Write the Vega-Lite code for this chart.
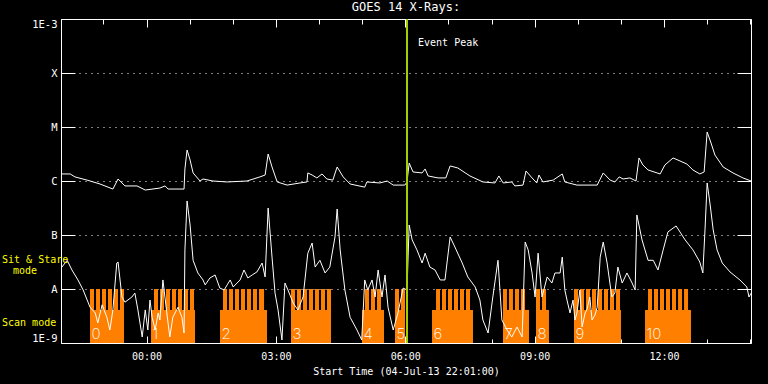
{
  "$schema": "https://vega.github.io/schema/vega-lite/v6.json",
  "width": 690,
  "height": 324,
  "autosize": {"type": "none"},
  "padding": {"left": 61, "top": 19, "right": 17, "bottom": 41},
  "background": "black",
  "title": {"text": "GOES 14 X-Rays:", "color": "white", "font": "DejaVu Sans Mono", "fontSize": 12, "fontWeight": "normal", "offset": 4, "anchor": "middle"},
  "config": {
    "view": {"stroke": "white", "strokeWidth": 1},
    "axis": {"domain": false, "grid": false, "labelFont": "DejaVu Sans Mono", "titleFont": "DejaVu Sans Mono", "labelColor": "white", "titleColor": "white", "tickColor": "white", "tickWidth": 1},
    "text": {"font": "DejaVu Sans Mono"}
  },
  "datasets": {
    "blocks": [
      {"n": "0", "start": -1.311, "end": -0.522},
      {"n": "1", "start": 0.104, "end": 1.124},
      {"n": "2", "start": 1.704, "end": 2.794},
      {"n": "3", "start": 3.35, "end": 4.278},
      {"n": "4", "start": 4.997, "end": 5.507},
      {"n": "5", "start": 5.762, "end": 5.994},
      {"n": "6", "start": 6.62, "end": 7.57},
      {"n": "7", "start": 8.266, "end": 8.869},
      {"n": "8", "start": 9.031, "end": 9.332},
      {"n": "9", "start": 9.912, "end": 11.002},
      {"n": "10", "start": 11.559, "end": 12.625}
    ],
    "teeth": [
      {"start": -1.311, "end": -1.218}, {"start": -1.171, "end": -1.079}, {"start": -1.032, "end": -0.94}, {"start": -0.893, "end": -0.8}, {"start": -0.754, "end": -0.661}, {"start": -0.615, "end": -0.522},
      {"start": 0.173, "end": 0.266}, {"start": 0.313, "end": 0.405}, {"start": 0.452, "end": 0.544}, {"start": 0.591, "end": 0.684}, {"start": 0.73, "end": 0.823}, {"start": 0.869, "end": 0.962}, {"start": 1.008, "end": 1.101},
      {"start": 1.773, "end": 1.866}, {"start": 1.913, "end": 2.005}, {"start": 2.052, "end": 2.144}, {"start": 2.191, "end": 2.284}, {"start": 2.33, "end": 2.423}, {"start": 2.469, "end": 2.562}, {"start": 2.608, "end": 2.725},
      {"start": 3.35, "end": 3.443}, {"start": 3.489, "end": 3.582}, {"start": 3.628, "end": 3.721}, {"start": 3.767, "end": 3.86}, {"start": 3.907, "end": 3.999}, {"start": 4.046, "end": 4.139}, {"start": 4.185, "end": 4.278},
      {"start": 5.066, "end": 5.159}, {"start": 5.205, "end": 5.298}, {"start": 5.344, "end": 5.437},
      {"start": 5.762, "end": 5.855}, {"start": 5.901, "end": 5.994},
      {"start": 6.713, "end": 6.805}, {"start": 6.852, "end": 6.944}, {"start": 6.991, "end": 7.084}, {"start": 7.13, "end": 7.223}, {"start": 7.269, "end": 7.362}, {"start": 7.408, "end": 7.501},
      {"start": 8.266, "end": 8.358}, {"start": 8.405, "end": 8.497}, {"start": 8.544, "end": 8.637}, {"start": 8.683, "end": 8.776},
      {"start": 9.031, "end": 9.124}, {"start": 9.17, "end": 9.263},
      {"start": 9.912, "end": 10.005}, {"start": 10.051, "end": 10.144}, {"start": 10.19, "end": 10.283}, {"start": 10.33, "end": 10.423}, {"start": 10.469, "end": 10.562}, {"start": 10.608, "end": 10.701}, {"start": 10.747, "end": 10.84}, {"start": 10.887, "end": 10.979},
      {"start": 11.629, "end": 11.721}, {"start": 11.768, "end": 11.861}, {"start": 11.907, "end": 12.0}, {"start": 12.046, "end": 12.139}, {"start": 12.185, "end": 12.278}, {"start": 12.325, "end": 12.418}, {"start": 12.464, "end": 12.557}
    ],
    "flux": [
      {"ch": "1-8 A", "hour": -1.98, "flux": 1.35e-6}, {"ch": "1-8 A", "hour": -1.77, "flux": 1.35e-6}, {"ch": "1-8 A", "hour": -1.66, "flux": 1.19e-6}, {"ch": "1-8 A", "hour": -1.38, "flux": 1.04e-6}, {"ch": "1-8 A", "hour": -1.08, "flux": 8.8e-7}, {"ch": "1-8 A", "hour": -0.78, "flux": 7.1e-7}, {"ch": "1-8 A", "hour": -0.66, "flux": 1.09e-6}, {"ch": "1-8 A", "hour": -0.5, "flux": 8.1e-7}, {"ch": "1-8 A", "hour": -0.22, "flux": 8.1e-7}, {"ch": "1-8 A", "hour": -0.03, "flux": 6.8e-7},
      {"ch": "1-8 A", "hour": 0.31, "flux": 7.4e-7}, {"ch": "1-8 A", "hour": 0.43, "flux": 8.1e-7}, {"ch": "1-8 A", "hour": 0.5, "flux": 7.1e-7}, {"ch": "1-8 A", "hour": 0.87, "flux": 7.1e-7}, {"ch": "1-8 A", "hour": 0.89, "flux": 1.67e-6}, {"ch": "1-8 A", "hour": 0.94, "flux": 3.75e-6}, {"ch": "1-8 A", "hour": 1.01, "flux": 2.45e-6}, {"ch": "1-8 A", "hour": 1.08, "flux": 1.41e-6}, {"ch": "1-8 A", "hour": 1.24, "flux": 1.0e-6}, {"ch": "1-8 A", "hour": 1.31, "flux": 1.09e-6},
      {"ch": "1-8 A", "hour": 1.54, "flux": 1.0e-6}, {"ch": "1-8 A", "hour": 1.87, "flux": 9.6e-7}, {"ch": "1-8 A", "hour": 2.33, "flux": 1.0e-6}, {"ch": "1-8 A", "hour": 2.63, "flux": 1.19e-6}, {"ch": "1-8 A", "hour": 2.75, "flux": 1.29e-6}, {"ch": "1-8 A", "hour": 2.82, "flux": 3.16e-6}, {"ch": "1-8 A", "hour": 2.91, "flux": 1.82e-6}, {"ch": "1-8 A", "hour": 3.03, "flux": 9.6e-7}, {"ch": "1-8 A", "hour": 3.26, "flux": 8.4e-7}, {"ch": "1-8 A", "hour": 3.56, "flux": 9.2e-7},
      {"ch": "1-8 A", "hour": 3.72, "flux": 9.6e-7}, {"ch": "1-8 A", "hour": 3.74, "flux": 1.41e-6}, {"ch": "1-8 A", "hour": 3.84, "flux": 1.29e-6}, {"ch": "1-8 A", "hour": 3.95, "flux": 1.14e-6}, {"ch": "1-8 A", "hour": 4.07, "flux": 1.35e-6}, {"ch": "1-8 A", "hour": 4.18, "flux": 1.09e-6}, {"ch": "1-8 A", "hour": 4.32, "flux": 1.04e-6}, {"ch": "1-8 A", "hour": 4.42, "flux": 1.82e-6}, {"ch": "1-8 A", "hour": 4.56, "flux": 1.19e-6}, {"ch": "1-8 A", "hour": 4.72, "flux": 8.8e-7},
      {"ch": "1-8 A", "hour": 5.06, "flux": 7.7e-7}, {"ch": "1-8 A", "hour": 5.11, "flux": 9.6e-7}, {"ch": "1-8 A", "hour": 5.41, "flux": 9.2e-7}, {"ch": "1-8 A", "hour": 5.58, "flux": 1.0e-6}, {"ch": "1-8 A", "hour": 5.72, "flux": 8.4e-7}, {"ch": "1-8 A", "hour": 5.99, "flux": 8.4e-7}, {"ch": "1-8 A", "hour": 6.04, "flux": 9.6e-7}, {"ch": "1-8 A", "hour": 6.09, "flux": 2.15e-6}, {"ch": "1-8 A", "hour": 6.18, "flux": 1.47e-6}, {"ch": "1-8 A", "hour": 6.39, "flux": 1.41e-6},
      {"ch": "1-8 A", "hour": 6.46, "flux": 1.67e-6}, {"ch": "1-8 A", "hour": 6.53, "flux": 1.24e-6}, {"ch": "1-8 A", "hour": 6.76, "flux": 1.14e-6}, {"ch": "1-8 A", "hour": 6.94, "flux": 1.14e-6}, {"ch": "1-8 A", "hour": 7.04, "flux": 1.9e-6}, {"ch": "1-8 A", "hour": 7.22, "flux": 1.74e-6}, {"ch": "1-8 A", "hour": 7.5, "flux": 1.24e-6}, {"ch": "1-8 A", "hour": 7.8, "flux": 9.6e-7}, {"ch": "1-8 A", "hour": 8.08, "flux": 9.2e-7}, {"ch": "1-8 A", "hour": 8.17, "flux": 1.24e-6},
      {"ch": "1-8 A", "hour": 8.27, "flux": 9.2e-7}, {"ch": "1-8 A", "hour": 8.47, "flux": 9.6e-7}, {"ch": "1-8 A", "hour": 8.54, "flux": 8.1e-7}, {"ch": "1-8 A", "hour": 8.73, "flux": 8.4e-7}, {"ch": "1-8 A", "hour": 8.8, "flux": 1.53e-6}, {"ch": "1-8 A", "hour": 8.94, "flux": 1.14e-6}, {"ch": "1-8 A", "hour": 9.05, "flux": 9.2e-7}, {"ch": "1-8 A", "hour": 9.1, "flux": 1.29e-6}, {"ch": "1-8 A", "hour": 9.19, "flux": 9.6e-7}, {"ch": "1-8 A", "hour": 9.43, "flux": 1.04e-6},
      {"ch": "1-8 A", "hour": 9.64, "flux": 1.35e-6}, {"ch": "1-8 A", "hour": 9.7, "flux": 9.6e-7}, {"ch": "1-8 A", "hour": 9.98, "flux": 8.4e-7}, {"ch": "1-8 A", "hour": 10.45, "flux": 8.4e-7}, {"ch": "1-8 A", "hour": 10.59, "flux": 1.41e-6}, {"ch": "1-8 A", "hour": 10.75, "flux": 1.04e-6}, {"ch": "1-8 A", "hour": 10.86, "flux": 9.6e-7}, {"ch": "1-8 A", "hour": 10.96, "flux": 1.19e-6}, {"ch": "1-8 A", "hour": 11.05, "flux": 1.09e-6}, {"ch": "1-8 A", "hour": 11.21, "flux": 1.14e-6},
      {"ch": "1-8 A", "hour": 11.35, "flux": 1.0e-6}, {"ch": "1-8 A", "hour": 11.42, "flux": 2.67e-6}, {"ch": "1-8 A", "hour": 11.51, "flux": 1.98e-6}, {"ch": "1-8 A", "hour": 11.63, "flux": 1.6e-6}, {"ch": "1-8 A", "hour": 11.84, "flux": 1.41e-6}, {"ch": "1-8 A", "hour": 11.91, "flux": 1.35e-6}, {"ch": "1-8 A", "hour": 12.02, "flux": 1.98e-6}, {"ch": "1-8 A", "hour": 12.21, "flux": 2.67e-6}, {"ch": "1-8 A", "hour": 12.37, "flux": 2.35e-6}, {"ch": "1-8 A", "hour": 12.53, "flux": 2.06e-6},
      {"ch": "1-8 A", "hour": 12.67, "flux": 1.6e-6}, {"ch": "1-8 A", "hour": 12.83, "flux": 1.35e-6}, {"ch": "1-8 A", "hour": 12.93, "flux": 1.47e-6}, {"ch": "1-8 A", "hour": 13.0, "flux": 8.08e-6}, {"ch": "1-8 A", "hour": 13.09, "flux": 5.05e-6}, {"ch": "1-8 A", "hour": 13.18, "flux": 3.03e-6}, {"ch": "1-8 A", "hour": 13.37, "flux": 1.82e-6}, {"ch": "1-8 A", "hour": 13.6, "flux": 1.41e-6}, {"ch": "1-8 A", "hour": 13.83, "flux": 1.14e-6}, {"ch": "1-8 A", "hour": 14.02, "flux": 1.0e-6},

      {"ch": "0.5-4 A", "hour": -1.98, "flux": 2.45e-8}, {"ch": "0.5-4 A", "hour": -1.84, "flux": 3.4e-8}, {"ch": "0.5-4 A", "hour": -1.73, "flux": 2.25e-8}, {"ch": "0.5-4 A", "hour": -1.59, "flux": 1.47e-8}, {"ch": "0.5-4 A", "hour": -1.47, "flux": 9.6e-9}, {"ch": "0.5-4 A", "hour": -1.31, "flux": 4.6e-9}, {"ch": "0.5-4 A", "hour": -1.19, "flux": 3.6e-9}, {"ch": "0.5-4 A", "hour": -1.13, "flux": 2.35e-9}, {"ch": "0.5-4 A", "hour": -1.03, "flux": 5.1e-9}, {"ch": "0.5-4 A", "hour": -0.92, "flux": 3.0e-9},
      {"ch": "0.5-4 A", "hour": -0.85, "flux": 1.74e-9}, {"ch": "0.5-4 A", "hour": -0.78, "flux": 4.1e-9}, {"ch": "0.5-4 A", "hour": -0.69, "flux": 3.03e-8}, {"ch": "0.5-4 A", "hour": -0.66, "flux": 3.16e-8}, {"ch": "0.5-4 A", "hour": -0.57, "flux": 7.1e-9}, {"ch": "0.5-4 A", "hour": -0.5, "flux": 5.7e-9}, {"ch": "0.5-4 A", "hour": -0.34, "flux": 7.1e-9}, {"ch": "0.5-4 A", "hour": -0.27, "flux": 8.4e-9}, {"ch": "0.5-4 A", "hour": -0.2, "flux": 4.1e-9}, {"ch": "0.5-4 A", "hour": -0.1, "flux": 1.29e-9},
      {"ch": "0.5-4 A", "hour": -0.03, "flux": 4.1e-9}, {"ch": "0.5-4 A", "hour": 0.03, "flux": 1.74e-9}, {"ch": "0.5-4 A", "hour": 0.08, "flux": 6.25e-9}, {"ch": "0.5-4 A", "hour": 0.13, "flux": 3.0e-9}, {"ch": "0.5-4 A", "hour": 0.2, "flux": 1.74e-9}, {"ch": "0.5-4 A", "hour": 0.27, "flux": 3.6e-9}, {"ch": "0.5-4 A", "hour": 0.31, "flux": 2.67e-9}, {"ch": "0.5-4 A", "hour": 0.38, "flux": 1.47e-8}, {"ch": "0.5-4 A", "hour": 0.47, "flux": 3.6e-9}, {"ch": "0.5-4 A", "hour": 0.54, "flux": 1.29e-9}, {"ch": "0.5-4 A", "hour": 0.61, "flux": 3.0e-9}, {"ch": "0.5-4 A", "hour": 0.73, "flux": 4.6e-9},
      {"ch": "0.5-4 A", "hour": 0.82, "flux": 3.0e-9}, {"ch": "0.5-4 A", "hour": 0.87, "flux": 1.53e-9}, {"ch": "0.5-4 A", "hour": 0.89, "flux": 5.3e-8}, {"ch": "0.5-4 A", "hour": 0.94, "flux": 4.27e-7}, {"ch": "0.5-4 A", "hour": 1.01, "flux": 1.53e-7}, {"ch": "0.5-4 A", "hour": 1.08, "flux": 3.4e-8}, {"ch": "0.5-4 A", "hour": 1.19, "flux": 1.98e-8}, {"ch": "0.5-4 A", "hour": 1.31, "flux": 1.47e-8}, {"ch": "0.5-4 A", "hour": 1.36, "flux": 1.19e-8}, {"ch": "0.5-4 A", "hour": 1.47, "flux": 1.6e-8}, {"ch": "0.5-4 A", "hour": 1.59, "flux": 1.82e-8}, {"ch": "0.5-4 A", "hour": 1.7, "flux": 1.04e-8}, {"ch": "0.5-4 A", "hour": 1.8, "flux": 9.6e-9},
      {"ch": "0.5-4 A", "hour": 1.87, "flux": 1.19e-8}, {"ch": "0.5-4 A", "hour": 1.94, "flux": 1.47e-8}, {"ch": "0.5-4 A", "hour": 2.01, "flux": 1.09e-8}, {"ch": "0.5-4 A", "hour": 2.1, "flux": 1.29e-8}, {"ch": "0.5-4 A", "hour": 2.17, "flux": 1.47e-8}, {"ch": "0.5-4 A", "hour": 2.26, "flux": 2.25e-8}, {"ch": "0.5-4 A", "hour": 2.35, "flux": 1.6e-8}, {"ch": "0.5-4 A", "hour": 2.45, "flux": 1.82e-8}, {"ch": "0.5-4 A", "hour": 2.56, "flux": 2.07e-8}, {"ch": "0.5-4 A", "hour": 2.68, "flux": 3.03e-8}, {"ch": "0.5-4 A", "hour": 2.75, "flux": 1.67e-8}, {"ch": "0.5-4 A", "hour": 2.82, "flux": 3.16e-7}, {"ch": "0.5-4 A", "hour": 2.91, "flux": 3.9e-8}, {"ch": "0.5-4 A", "hour": 2.98, "flux": 8.4e-9},
      {"ch": "0.5-4 A", "hour": 3.05, "flux": 4.1e-9}, {"ch": "0.5-4 A", "hour": 3.14, "flux": 1.14e-9}, {"ch": "0.5-4 A", "hour": 3.21, "flux": 1.29e-8}, {"ch": "0.5-4 A", "hour": 3.28, "flux": 9.6e-9}, {"ch": "0.5-4 A", "hour": 3.4, "flux": 5.5e-9}, {"ch": "0.5-4 A", "hour": 3.51, "flux": 4.1e-9}, {"ch": "0.5-4 A", "hour": 3.63, "flux": 7.1e-9}, {"ch": "0.5-4 A", "hour": 3.74, "flux": 4.6e-8}, {"ch": "0.5-4 A", "hour": 3.84, "flux": 7.1e-8}, {"ch": "0.5-4 A", "hour": 3.91, "flux": 2.55e-8},
      {"ch": "0.5-4 A", "hour": 4.02, "flux": 3.4e-8}, {"ch": "0.5-4 A", "hour": 4.14, "flux": 1.98e-8}, {"ch": "0.5-4 A", "hour": 4.25, "flux": 2.55e-8}, {"ch": "0.5-4 A", "hour": 4.37, "flux": 9.2e-8}, {"ch": "0.5-4 A", "hour": 4.42, "flux": 3.03e-7}, {"ch": "0.5-4 A", "hour": 4.49, "flux": 5.3e-8}, {"ch": "0.5-4 A", "hour": 4.6, "flux": 9.6e-9}, {"ch": "0.5-4 A", "hour": 4.72, "flux": 3.0e-9}, {"ch": "0.5-4 A", "hour": 4.88, "flux": 1.74e-9}, {"ch": "0.5-4 A", "hour": 4.99, "flux": 1.14e-9},
      {"ch": "0.5-4 A", "hour": 5.06, "flux": 1.47e-8}, {"ch": "0.5-4 A", "hour": 5.13, "flux": 9.6e-9}, {"ch": "0.5-4 A", "hour": 5.23, "flux": 1.47e-8}, {"ch": "0.5-4 A", "hour": 5.3, "flux": 7.1e-9}, {"ch": "0.5-4 A", "hour": 5.37, "flux": 2.25e-8}, {"ch": "0.5-4 A", "hour": 5.46, "flux": 7.1e-9}, {"ch": "0.5-4 A", "hour": 5.53, "flux": 1.82e-8}, {"ch": "0.5-4 A", "hour": 5.6, "flux": 4.6e-9}, {"ch": "0.5-4 A", "hour": 5.72, "flux": 1.74e-9}, {"ch": "0.5-4 A", "hour": 5.83, "flux": 3.6e-9},
      {"ch": "0.5-4 A", "hour": 5.95, "flux": 1.04e-8}, {"ch": "0.5-4 A", "hour": 6.04, "flux": 9.6e-9}, {"ch": "0.5-4 A", "hour": 6.09, "flux": 1.53e-7}, {"ch": "0.5-4 A", "hour": 6.16, "flux": 8.1e-8}, {"ch": "0.5-4 A", "hour": 6.27, "flux": 5.3e-8}, {"ch": "0.5-4 A", "hour": 6.39, "flux": 3.03e-8}, {"ch": "0.5-4 A", "hour": 6.46, "flux": 4.6e-8}, {"ch": "0.5-4 A", "hour": 6.57, "flux": 2.55e-8}, {"ch": "0.5-4 A", "hour": 6.69, "flux": 2.25e-8}, {"ch": "0.5-4 A", "hour": 6.81, "flux": 1.47e-8},
      {"ch": "0.5-4 A", "hour": 6.92, "flux": 1.47e-8}, {"ch": "0.5-4 A", "hour": 7.04, "flux": 9.2e-8}, {"ch": "0.5-4 A", "hour": 7.15, "flux": 6.0e-8}, {"ch": "0.5-4 A", "hour": 7.32, "flux": 3.03e-8}, {"ch": "0.5-4 A", "hour": 7.45, "flux": 1.67e-8}, {"ch": "0.5-4 A", "hour": 7.62, "flux": 1.09e-8}, {"ch": "0.5-4 A", "hour": 7.73, "flux": 6.25e-9}, {"ch": "0.5-4 A", "hour": 7.8, "flux": 2.67e-9}, {"ch": "0.5-4 A", "hour": 7.92, "flux": 1.53e-9}, {"ch": "0.5-4 A", "hour": 8.03, "flux": 7.1e-9},
      {"ch": "0.5-4 A", "hour": 8.15, "flux": 3.4e-8}, {"ch": "0.5-4 A", "hour": 8.24, "flux": 2.67e-9}, {"ch": "0.5-4 A", "hour": 8.36, "flux": 1.74e-9}, {"ch": "0.5-4 A", "hour": 8.47, "flux": 1.29e-9}, {"ch": "0.5-4 A", "hour": 8.59, "flux": 1.98e-9}, {"ch": "0.5-4 A", "hour": 8.71, "flux": 1.29e-9}, {"ch": "0.5-4 A", "hour": 8.78, "flux": 7.4e-8}, {"ch": "0.5-4 A", "hour": 8.85, "flux": 5.3e-8}, {"ch": "0.5-4 A", "hour": 8.94, "flux": 1.98e-8}, {"ch": "0.5-4 A", "hour": 9.01, "flux": 7.1e-9},
      {"ch": "0.5-4 A", "hour": 9.08, "flux": 4.6e-8}, {"ch": "0.5-4 A", "hour": 9.17, "flux": 7.1e-9}, {"ch": "0.5-4 A", "hour": 9.29, "flux": 1.67e-8}, {"ch": "0.5-4 A", "hour": 9.4, "flux": 1.29e-8}, {"ch": "0.5-4 A", "hour": 9.47, "flux": 1.98e-8}, {"ch": "0.5-4 A", "hour": 9.59, "flux": 1.98e-8}, {"ch": "0.5-4 A", "hour": 9.64, "flux": 3.9e-8}, {"ch": "0.5-4 A", "hour": 9.7, "flux": 9.6e-9}, {"ch": "0.5-4 A", "hour": 9.75, "flux": 6.25e-9}, {"ch": "0.5-4 A", "hour": 9.82, "flux": 3.6e-9}, {"ch": "0.5-4 A", "hour": 9.89, "flux": 6.25e-9}, {"ch": "0.5-4 A", "hour": 9.935, "flux": 2.67e-9},
      {"ch": "0.5-4 A", "hour": 9.98, "flux": 3.6e-9}, {"ch": "0.5-4 A", "hour": 10.05, "flux": 9.6e-9}, {"ch": "0.5-4 A", "hour": 10.1, "flux": 1.98e-9}, {"ch": "0.5-4 A", "hour": 10.17, "flux": 3.6e-9}, {"ch": "0.5-4 A", "hour": 10.21, "flux": 4.1e-9}, {"ch": "0.5-4 A", "hour": 10.28, "flux": 7.1e-9}, {"ch": "0.5-4 A", "hour": 10.33, "flux": 2.67e-9}, {"ch": "0.5-4 A", "hour": 10.4, "flux": 3.3e-9}, {"ch": "0.5-4 A", "hour": 10.45, "flux": 4.6e-9}, {"ch": "0.5-4 A", "hour": 10.52, "flux": 3.9e-8}, {"ch": "0.5-4 A", "hour": 10.59, "flux": 7.4e-8}, {"ch": "0.5-4 A", "hour": 10.68, "flux": 3.03e-8}, {"ch": "0.5-4 A", "hour": 10.79, "flux": 7.1e-9}, {"ch": "0.5-4 A", "hour": 10.86, "flux": 8.4e-9},
      {"ch": "0.5-4 A", "hour": 10.93, "flux": 2.55e-8}, {"ch": "0.5-4 A", "hour": 11.03, "flux": 1.29e-8}, {"ch": "0.5-4 A", "hour": 11.14, "flux": 1.98e-8}, {"ch": "0.5-4 A", "hour": 11.26, "flux": 1.29e-8}, {"ch": "0.5-4 A", "hour": 11.33, "flux": 9.6e-9}, {"ch": "0.5-4 A", "hour": 11.37, "flux": 2.35e-7}, {"ch": "0.5-4 A", "hour": 11.49, "flux": 8.1e-8}, {"ch": "0.5-4 A", "hour": 11.63, "flux": 3.4e-8}, {"ch": "0.5-4 A", "hour": 11.75, "flux": 3.4e-8}, {"ch": "0.5-4 A", "hour": 11.86, "flux": 2.25e-8},
      {"ch": "0.5-4 A", "hour": 11.98, "flux": 5.3e-8}, {"ch": "0.5-4 A", "hour": 12.09, "flux": 1.14e-7}, {"ch": "0.5-4 A", "hour": 12.28, "flux": 1.47e-7}, {"ch": "0.5-4 A", "hour": 12.49, "flux": 8.1e-8}, {"ch": "0.5-4 A", "hour": 12.67, "flux": 5.3e-8}, {"ch": "0.5-4 A", "hour": 12.83, "flux": 3.16e-8}, {"ch": "0.5-4 A", "hour": 12.9, "flux": 1.98e-8}, {"ch": "0.5-4 A", "hour": 12.95, "flux": 1.24e-7}, {"ch": "0.5-4 A", "hour": 13.0, "flux": 9.2e-7}, {"ch": "0.5-4 A", "hour": 13.07, "flux": 3.6e-7},
      {"ch": "0.5-4 A", "hour": 13.14, "flux": 1.24e-7}, {"ch": "0.5-4 A", "hour": 13.23, "flux": 5.3e-8}, {"ch": "0.5-4 A", "hour": 13.35, "flux": 3.03e-8}, {"ch": "0.5-4 A", "hour": 13.53, "flux": 2.07e-8}, {"ch": "0.5-4 A", "hour": 13.76, "flux": 1.47e-8}, {"ch": "0.5-4 A", "hour": 13.92, "flux": 1.09e-8}, {"ch": "0.5-4 A", "hour": 13.97, "flux": 7.1e-9}, {"ch": "0.5-4 A", "hour": 14.02, "flux": 8.4e-9}
    ],
    "event": [{"hour": 6.04, "label": "Event Peak", "flux": 3.6e-4}],
    "notes": [
      {"hour": -3.351, "flux": 3.5e-8, "label": "Sit & Stare"},
      {"hour": -3.096, "flux": 2.15e-8, "label": "mode"},
      {"hour": -3.351, "flux": 2.3e-9, "label": "Scan mode"}
    ]
  },
  "layer": [
    {
      "data": {"name": "blocks"},
      "mark": {"type": "rect", "color": "#ff8000"},
      "encoding": {
        "x": {"field": "start", "type": "quantitative",
          "scale": {"domain": [-1.9833, 14.0167], "nice": false, "zero": false},
          "axis": {"orient": "bottom", "values": [0, 3, 6, 9, 12], "labelExpr": "(datum.value < 10 ? '0' : '') + datum.value + ':00'", "ticks": false, "labelPadding": 8, "labelFontSize": 10, "title": "Start Time (04-Jul-13 22:01:00)", "titleFontSize": 10, "titleFontWeight": "normal", "titlePadding": 5}},
        "x2": {"field": "end"},
        "y": {"datum": 1e-9, "type": "quantitative",
          "scale": {"type": "log", "domain": [1e-9, 1e-3], "nice": false},
          "axis": {"orient": "left", "values": [1e-9, 1e-8, 1e-7, 1e-6, 1e-5, 1e-4, 1e-3], "labelExpr": "datum.value < 5e-9 ? '1E-9' : datum.value < 5e-8 ? 'A' : datum.value < 5e-7 ? 'B' : datum.value < 5e-6 ? 'C' : datum.value < 5e-5 ? 'M' : datum.value < 5e-4 ? 'X' : '1E-3'", "tickSize": -14, "labelPadding": 18, "labelFlush": true, "labelFontSize": 10.5, "grid": true, "gridColor": "white", "gridDash": [1, 5], "gridOpacity": 1, "gridWidth": 1, "title": null}},
        "y2": {"datum": 4.1e-9}
      }
    },
    {
      "data": {"name": "teeth"},
      "mark": {"type": "rect", "color": "#ff8000"},
      "encoding": {
        "x": {"field": "start", "type": "quantitative",
          "axis": {"orient": "top", "values": [-1, 0, 1, 2, 3, 4, 5, 6, 7, 8, 9, 10, 11, 12, 13, 14], "labels": false, "tickSize": -5, "title": null}},
        "x2": {"field": "end"},
        "y": {"datum": 1e-9, "type": "quantitative",
          "axis": {"orient": "right", "values": [1e-9, 1e-8, 1e-7, 1e-6, 1e-5, 1e-4, 1e-3], "labels": false, "tickSize": -14, "title": null}},
        "y2": {"datum": 1e-8}
      }
    },
    {
      "data": {"name": "blocks"},
      "mark": {"type": "text", "color": "white", "align": "left", "baseline": "alphabetic", "dx": 1.5, "fontSize": 15, "font": "Inter", "fontWeight": 200},
      "encoding": {
        "x": {"field": "start", "type": "quantitative",
          "axis": {"orient": "bottom", "values": [0, 3, 6, 9, 12], "labels": false, "tickSize": -7, "title": null}},
        "y": {"datum": 1.2e-9, "type": "quantitative", "axis": null},
        "text": {"field": "n"}
      }
    },
    {
      "data": {"name": "flux"},
      "mark": {"type": "line", "color": "white", "strokeWidth": 1, "clip": true},
      "encoding": {
        "x": {"field": "hour", "type": "quantitative",
          "axis": {"orient": "bottom", "values": [-1, 0, 1, 2, 3, 4, 5, 6, 7, 8, 9, 10, 11, 12, 13, 14], "labels": false, "tickSize": -4, "title": null}},
        "y": {"field": "flux", "type": "quantitative", "axis": null},
        "detail": {"field": "ch"}
      }
    },
    {
      "data": {"name": "event"},
      "mark": {"type": "rule", "color": "#a0d000", "strokeWidth": 2},
      "encoding": {
        "x": {"field": "hour", "type": "quantitative",
          "axis": {"orient": "top", "values": [0, 3, 6, 9, 12], "labels": false, "tickSize": -8, "title": null}}
      }
    },
    {
      "data": {"name": "event"},
      "mark": {"type": "text", "color": "white", "align": "left", "baseline": "middle", "dx": 11, "fontSize": 10},
      "encoding": {
        "x": {"field": "hour", "type": "quantitative", "axis": null},
        "y": {"field": "flux", "type": "quantitative", "axis": null},
        "text": {"field": "label"}
      }
    },
    {
      "data": {"name": "notes"},
      "mark": {"type": "text", "color": "#ffff00", "align": "left", "baseline": "middle", "fontSize": 10},
      "encoding": {
        "x": {"field": "hour", "type": "quantitative", "axis": null},
        "y": {"field": "flux", "type": "quantitative", "axis": null},
        "text": {"field": "label"}
      }
    }
  ],
  "resolve": {"axis": {"x": "independent", "y": "independent"}}
}
